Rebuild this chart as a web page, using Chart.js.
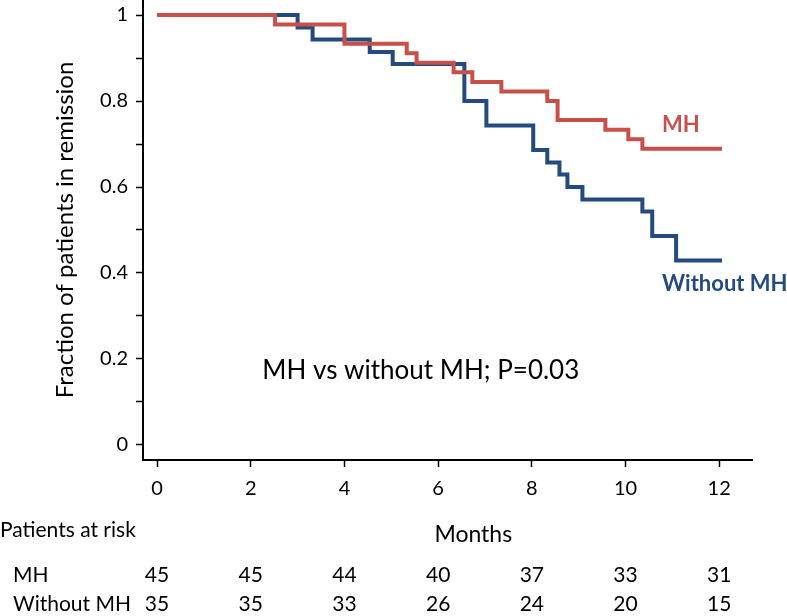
<!DOCTYPE html>
<html lang="en">

<head>
  <meta charset="UTF-8" />
  <title>Fraction of patients in remission</title>
  <script src="https://cdn.jsdelivr.net/npm/chart.js"></script>
  <style>
    html,
    body {
      margin: 0;
      padding: 0;
      background-color: #fff;
      font-family: Lato, sans-serif;
    }

    #chart-container {
      width: 787px;
      height: 616px;
      position: relative;
    }
  </style>
</head>

<body>
  <div id="chart-container">
    <canvas id="kmChart"></canvas>
  </div>

  <script>
    // Kaplan-Meier steps (month of event, fraction after it)
    const mhMonths = [0, 2.52, 4.0, 5.33, 5.54, 6.33, 6.73, 7.35, 8.33, 8.55, 9.57, 10.06, 10.36, 12.06];
    const mhSurvival = [1, 0.978, 0.933, 0.911, 0.889, 0.867, 0.844, 0.822, 0.8, 0.756, 0.733, 0.711, 0.689, 0.689];
    const noMhMonths = [0, 3.0, 3.32, 4.54, 5.03, 6.56, 7.03, 8.03, 8.33, 8.59, 8.76, 9.08, 10.36, 10.57, 11.08, 12.06];
    const noMhSurvival = [1, 0.971, 0.943, 0.914, 0.886, 0.8, 0.743, 0.686, 0.657, 0.629, 0.6, 0.571, 0.543, 0.486, 0.429, 0.429];

    // axis ticks
    const xTicks = [0, 2, 4, 6, 8, 10, 12];
    const yMajorTicks = [0, 0.2, 0.4, 0.6, 0.8, 1];
    const yMinorTicks = [0.1, 0.3, 0.5, 0.7, 0.9];

    // patients at risk table
    const riskMonths = [0, 2, 4, 6, 8, 10, 12];
    const riskMH = [45, 45, 44, 40, 37, 33, 31];
    const riskNoMH = [35, 35, 33, 26, 24, 20, 15];

    const RED = '#c8504b';
    const BLUE = '#234b80';
    const FONT = 'Lato, sans-serif';

    const toPoints = (xs, ys) => xs.map((x, i) => ({ x: x, y: ys[i] }));

    const extraText = {
      id: 'extraText',
      afterDraw(chart) {
        const ctx = chart.ctx;
        const x = chart.scales.x;
        const y = chart.scales.y;
        ctx.save();
        ctx.textBaseline = 'middle';

        // curve labels
        ctx.textAlign = 'left';
        ctx.font = 'bold 22px ' + FONT;
        ctx.fillStyle = RED;
        ctx.fillText('MH', x.getPixelForValue(10.78), y.getPixelForValue(0.744));
        ctx.fillStyle = BLUE;
        ctx.fillText('Without MH', x.getPixelForValue(10.78), y.getPixelForValue(0.374));

        // log-rank note
        ctx.fillStyle = '#000';
        ctx.textAlign = 'center';
        ctx.font = '26px ' + FONT;
        ctx.fillText('MH vs without MH; P=0.03', x.getPixelForValue(5.63), y.getPixelForValue(0.172));

        // x title
        ctx.font = '23px ' + FONT;
        ctx.fillText('Months', x.getPixelForValue(6.75), 535);

        // patients at risk
        ctx.font = '21px ' + FONT;
        ctx.textAlign = 'left';
        ctx.fillText('Patients at risk', 0, 530);
        ctx.fillText('MH', 13, 575);
        ctx.fillText('Without MH', 13, 604);
        ctx.textAlign = 'center';
        riskMonths.forEach((m, i) => {
          const px = x.getPixelForValue(m);
          ctx.fillText(String(riskMH[i]), px, 575);
          ctx.fillText(String(riskNoMH[i]), px, 604);
        });
        ctx.restore();
      }
    };

    const ctx = document.getElementById('kmChart').getContext('2d');

    const kmChart = new Chart(ctx, {
      type: 'line',
      data: {
        datasets: [
          {
            label: 'MH',
            data: toPoints(mhMonths, mhSurvival),
            borderColor: RED,
            borderWidth: 4,
            pointRadius: 0,
            stepped: 'before',
            fill: false
          },
          {
            label: 'Without MH',
            data: toPoints(noMhMonths, noMhSurvival),
            borderColor: BLUE,
            borderWidth: 4,
            pointRadius: 0,
            stepped: 'before',
            fill: false
          }
        ]
      },
      options: {
        responsive: true,
        maintainAspectRatio: false,
        animation: false,
        layout: { padding: { left: 0, top: 0, right: 35, bottom: 116 } },
        plugins: {
          legend: { display: false },
          tooltip: { enabled: false }
        },
        scales: {
          x: {
            type: 'linear',
            min: -0.3,
            max: 12.7,
            afterBuildTicks: (scale) => { scale.ticks = xTicks.map(v => ({ value: v })); },
            afterFit: (scale) => {
              scale.height = 40;
              scale.paddingLeft = 0;
              scale.paddingRight = 0;
            },
            ticks: { color: '#000', font: { family: FONT, size: 20 }, padding: 10, maxRotation: 0 },
            grid: { drawOnChartArea: false, drawTicks: true, tickLength: 7, tickColor: '#000', tickWidth: 1.5 },
            border: { color: '#000', width: 2 }
          },
          y: {
            min: -0.035,
            max: 1.035,
            afterBuildTicks: (scale) => {
              scale.ticks = yMajorTicks.concat(yMinorTicks).sort((a, b) => a - b).map(v => ({ value: v }));
            },
            afterFit: (scale) => {
              scale.width = 143;
              scale.paddingTop = 0;
              scale.paddingBottom = 0;
            },
            ticks: {
              color: '#000',
              font: { family: FONT, size: 20 },
              padding: 8,
              callback: (v) => yMajorTicks.some(t => Math.abs(t - v) < 1e-6) ? String(+v.toFixed(1)) : ''
            },
            grid: { drawOnChartArea: false, drawTicks: true, tickLength: 7, tickColor: '#000', tickWidth: 1.5 },
            border: { color: '#000', width: 2 },
            title: {
              display: true,
              text: 'Fraction of patients in remission',
              color: '#000',
              font: { family: FONT, size: 24 },
              padding: { top: 51, bottom: 0 }
            }
          }
        }
      },
      plugins: [extraText]
    });
  </script>
</body>

</html>
